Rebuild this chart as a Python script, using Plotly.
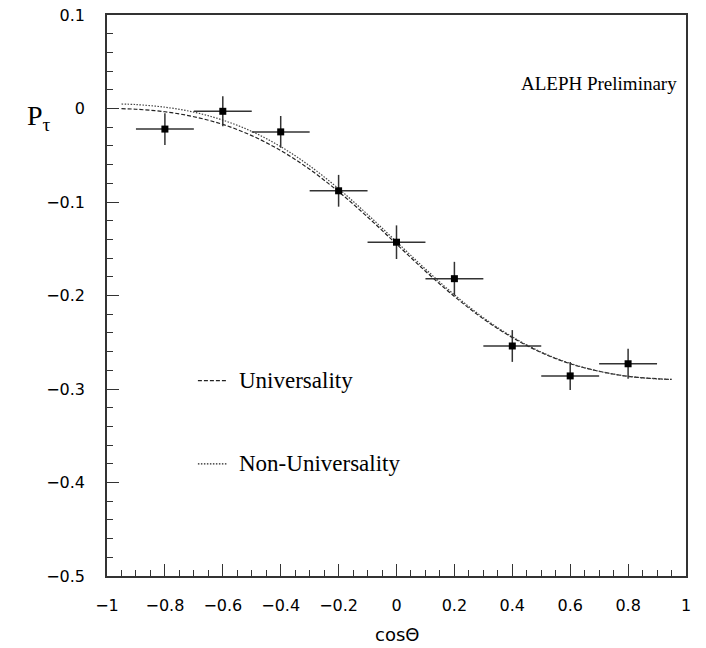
import plotly.graph_objects as go

# measured data points
cos_theta = [-0.8, -0.6, -0.4, -0.2, 0.0, 0.2, 0.4, 0.6, 0.8]
p_tau = [-0.022, -0.003, -0.025, -0.088, -0.143, -0.182, -0.254, -0.286, -0.273]
p_err = [0.017, 0.016, 0.017, 0.017, 0.018, 0.018, 0.017, 0.015, 0.016]
x_halfwidth = [0.1, 0.1, 0.1, 0.1, 0.1, 0.1, 0.1, 0.1, 0.1]

# curves
curve_x = [-0.95, -0.9, -0.8, -0.7, -0.6, -0.5, -0.4, -0.3, -0.2, -0.1, 0.0,
           0.1, 0.2, 0.3, 0.4, 0.5, 0.6, 0.7, 0.8, 0.9, 0.95]
univ_y = [-0.0002, -0.0008, -0.0035, -0.0088, -0.017, -0.029, -0.045, -0.065,
          -0.089, -0.116, -0.145, -0.174, -0.201, -0.225, -0.245, -0.261,
          -0.273, -0.281, -0.2865, -0.289, -0.2898]
nonuniv_y = [0.0048, 0.0042, 0.0014, -0.0039, -0.0124, -0.0245, -0.0408, -0.0613,
             -0.0858, -0.1133, -0.1425, -0.1717, -0.1992, -0.2237, -0.2442,
             -0.2605, -0.2726, -0.2811, -0.2864, -0.2892, -0.2898]

x_ticks = [-1, -0.8, -0.6, -0.4, -0.2, 0, 0.2, 0.4, 0.6, 0.8, 1]
x_ticktext = ["−1", "−0.8", "−0.6", "−0.4", "−0.2", "0", "0.2", "0.4", "0.6", "0.8", "1"]
y_ticks = [0.1, 0, -0.1, -0.2, -0.3, -0.4, -0.5]
y_ticktext = ["0.1", "0", "−0.1", "−0.2", "−0.3", "−0.4", "−0.5"]

legend_labels = ["Universality", "Non-Universality"]
legend_y = [-0.291, -0.380]
legend_dash = ["dash", "dot"]

DASH = "4px,2px"
DOT = "1.5px,1.5px"

fig = go.Figure()
fig.add_trace(go.Scatter(x=curve_x, y=univ_y, mode="lines", line_shape="spline",
                         line=dict(color="#222", width=1.2, dash=DASH),
                         showlegend=False))
fig.add_trace(go.Scatter(x=curve_x, y=nonuniv_y, mode="lines", line_shape="spline",
                         line=dict(color="#444", width=1.2, dash=DOT),
                         showlegend=False))
fig.add_trace(go.Scatter(
    x=cos_theta, y=p_tau, mode="markers",
    marker=dict(symbol="square", size=7, color="black"),
    error_y=dict(type="data", array=p_err, color="#333", thickness=1.5, width=0),
    error_x=dict(type="data", array=x_halfwidth, color="#333", thickness=1.5, width=0),
    showlegend=False))

serif = "Liberation Serif, Times New Roman, serif"
sans = "DejaVu Sans, Liberation Sans, sans-serif"
for lab, ly, dsh in zip(legend_labels, legend_y, legend_dash):
    fig.add_shape(type="line", x0=-0.686, x1=-0.583, y0=ly, y1=ly,
                  line=dict(color="#222", width=1.2, dash=DASH if dsh == "dash" else DOT))
    fig.add_annotation(x=-0.552, y=ly, text=lab, showarrow=False, xanchor="left",
                       yanchor="middle", font=dict(family=serif, size=23, color="black"))

fig.add_annotation(x=0.70, y=0.027, text="ALEPH Preliminary", showarrow=False,
                   xanchor="center", yanchor="middle",
                   font=dict(family=serif, size=19, color="black"))
fig.add_annotation(x=-0.117, xref="paper", y=0.818, yref="paper",
                   text="P<sub>τ</sub>", showarrow=False, xanchor="center", yanchor="middle",
                   font=dict(family=serif, size=28, color="black"))
fig.add_annotation(x=0.5, xref="paper", y=-0.105, yref="paper",
                   text="cosΘ", showarrow=False, xanchor="center", yanchor="middle",
                   font=dict(family=sans, size=18, color="black"))

fig.update_xaxes(range=[-1, 1], tickvals=x_ticks, ticktext=x_ticktext, automargin=False,
                 ticks="inside", ticklen=12, tickwidth=1, tickcolor="#333",
                 minor=dict(dtick=0.05, ticks="inside", ticklen=6, tickcolor="#333", tick0=0),
                 showline=True, linecolor="#333", linewidth=1.5, mirror=True,
                 showgrid=False, zeroline=False, ticklabelstandoff=14,
                 tickfont=dict(family=sans, size=16, color="black"))
fig.update_yaxes(range=[-0.5, 0.1], tickvals=y_ticks, ticktext=y_ticktext, automargin=False,
                 ticks="inside", ticklen=12, tickwidth=1, tickcolor="#333",
                 minor=dict(dtick=0.02, ticks="inside", ticklen=6, tickcolor="#333", tick0=0),
                 showline=True, linecolor="#333", linewidth=1.5, mirror=True,
                 showgrid=False, zeroline=False, ticklabelstandoff=17,
                 tickfont=dict(family=sans, size=16, color="black"))

fig.update_layout(width=706, height=648, margin=dict(l=107, r=20, t=15, b=72),
                  plot_bgcolor="white", paper_bgcolor="white")
fig.write_html("out.html")
